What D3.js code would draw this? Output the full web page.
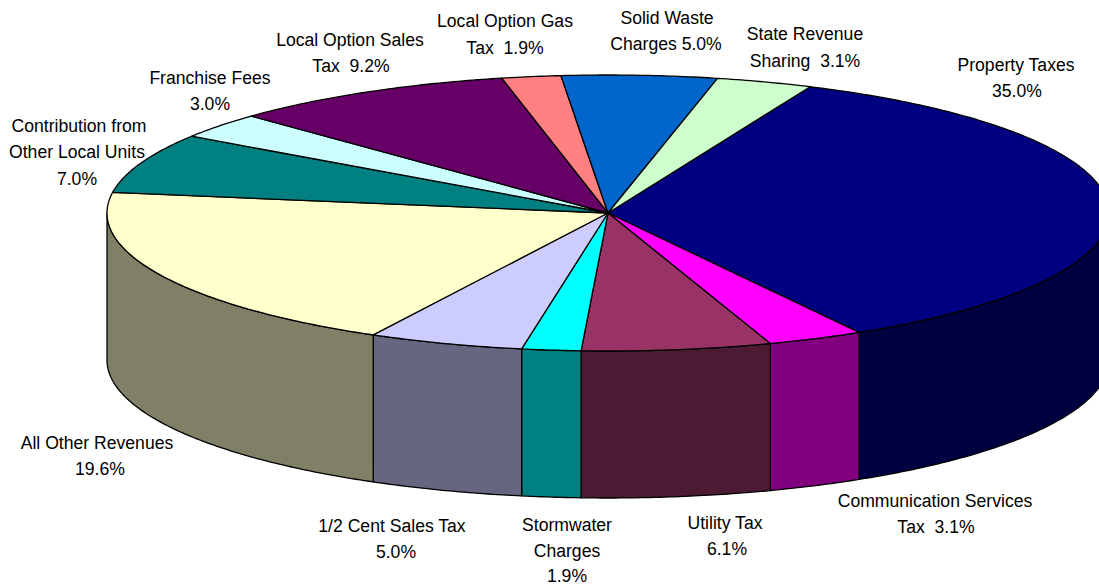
<!DOCTYPE html>
<html>
<head>
<meta charset="utf-8">
<script src="https://cdnjs.cloudflare.com/ajax/libs/d3/7.8.5/d3.min.js"></script>
<style>
html,body{margin:0;padding:0;background:#fff;overflow:hidden}
text{font-family:"Liberation Sans",Arial,sans-serif;font-size:17.6px;fill:#000;text-anchor:middle}
</style>
</head>
<body>
<svg id="chart" width="1099" height="586" viewBox="0 0 1099 586"></svg>
<script>
const categories = ["Property Taxes","Communication Services Tax","Utility Tax","Stormwater Charges","1/2 Cent Sales Tax","All Other Revenues","Contribution from Other Local Units","Franchise Fees","Local Option Sales Tax","Local Option Gas Tax","Solid Waste Charges","State Revenue Sharing"];
const values = [35.0,3.1,6.1,1.9,5.0,19.6,7.0,3.0,9.2,1.9,5.0,3.1];
const topColors = ["#000080","#ff00ff","#993366","#00ffff","#ccccff","#ffffcc","#008080","#ccffff","#660066","#ff8080","#0066cc","#ccffcc"];
const sideColors = ["#000040","#800080","#4d1a33","#008080","#666680","#808066","#004040","#668080","#330033","#804040","#003366","#668066"];
const labelLines = [
  ["Property Taxes","35.0%"],
  ["Communication Services","Tax  3.1%"],
  ["Utility Tax","6.1%"],
  ["Stormwater","Charges","1.9%"],
  ["1/2 Cent Sales Tax","5.0%"],
  ["All Other Revenues","19.6%"],
  ["Contribution from","Other Local Units","7.0%"],
  ["Franchise Fees","3.0%"],
  ["Local Option Sales","Tax  9.2%"],
  ["Local Option Gas","Tax  1.9%"],
  ["Solid Waste","Charges 5.0%"],
  ["State Revenue","Sharing  3.1%"]
];
const labelX = [[1016,1017],[935,936],[725,727],[567,567,567],[392,396],[97,100],[79,77,77],[210,210],[350,351],[505,505],[667,666],[805,805]];
const labelY = [[71,97],[507,533],[529,555],[531,557,582],[532,558],[449,475],[132,158,185],[84,110],[46,72],[27,54],[24,50],[40,67]];

const cx = 608, cy = 213, rx = 501, ry = 138, depth = 147;
const startDeg = 23.8;
const px = d3.scaleLinear().domain([-1,1]).range([cx-rx,cx+rx]);
const py = d3.scaleLinear().domain([-1,1]).range([cy-ry,cy+ry]);
const svg = d3.select("#chart");
const startA = startDeg*Math.PI/180;
const pie = d3.pie().sort(null).startAngle(startA).endAngle(startA+2*Math.PI)(values);
const arcs = pie.map((d,i)=>({i,a0:d.startAngle,a1:d.endAngle}));
const rim = (a,dy=0)=>[px(Math.sin(a)),py(-Math.cos(a))+dy];
const sample = (a0,a1,dy=0)=>{
  const n = Math.max(2,Math.ceil((a1-a0)/0.01));
  return d3.range(n+1).map(k=>rim(a0+(a1-a0)*k/n,dy));
};
const line = d3.line();

const sideG = svg.append("g");
arcs.forEach(d=>{
  const a0 = Math.max(d.a0,Math.PI/2), a1 = Math.min(d.a1,3*Math.PI/2);
  if(a1<=a0) return;
  const pts = sample(a0,a1).concat(sample(a0,a1,depth).reverse());
  sideG.append("path").attr("d",line(pts)+"Z")
    .attr("fill",sideColors[d.i]).attr("stroke","#000").attr("stroke-width",1.3).attr("stroke-linejoin","round");
});
const topG = svg.append("g");
arcs.forEach(d=>{
  const pts = [[cx,cy]].concat(sample(d.a0,d.a1));
  topG.append("path").attr("d",line(pts)+"Z")
    .attr("fill",topColors[d.i]).attr("stroke","#000").attr("stroke-width",1.3).attr("stroke-linejoin","round");
});
const labelG = svg.append("g");
labelLines.forEach((lines,i)=>{
  const t = labelG.append("text").attr("xml:space","preserve").style("white-space","pre");
  lines.forEach((s,k)=>t.append("tspan").attr("x",labelX[i][k]).attr("y",labelY[i][k]).text(s));
});
</script>
</body>
</html>
